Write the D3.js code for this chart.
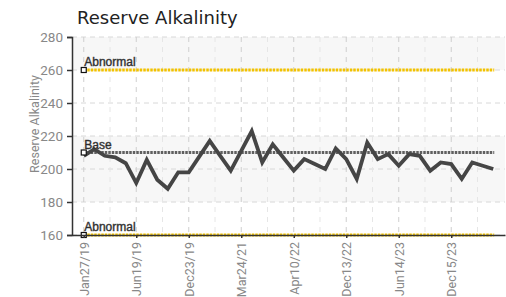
<!DOCTYPE html>
<html><head><meta charset="utf-8">
<script src="https://cdn.jsdelivr.net/npm/d3@7"></script>
<style>
html,body{margin:0;padding:0;background:#fff;}
svg{display:block;}
</style></head>
<body><div id="chart"></div>
<script>
const title = "Reserve Alkalinity";
const yTitle = "Reserve Alkalinity";
const values = [208,212,208,207,203.5,191.5,205.5,193.5,188,198,
                198,207.5,217,208,199,211,223,204,215,207,
                199,206,203,200,212.5,206,194,216,206,209,
                202,209,208,199,204,203,194,204,202,200];
const tickIndex = [0,5,10,15,20,25,30,35];
const tickLabels = ["Jan27/19","Jun19/19","Dec23/19","Mar24/21","Apr10/22","Dec13/22","Jun14/23","Dec15/23"];
const yTicks = [160,180,200,220,240,260,280];
const refNames = ["Abnormal","Base","Abnormal"];
const refValues = [260,210,160];
const refColors = ["#f2c200","#606060","#f2c200"];

(function(){
const W = 506, H = 297;
const mLeft = 72, mRight = 505, mTop = 37, mBottom = 235;

const svg = d3.select("#chart").append("svg").attr("width", W).attr("height", H);

const x = d3.scalePoint().domain(d3.range(values.length)).range([mLeft, mRight]).padding(1.12);
const y = d3.scaleLinear().domain([160, 280]).range([mBottom, mTop]);

// background bands
const bands = [[260,280],[180,220]];
svg.append("g").selectAll("rect").data(bands).join("rect")
  .attr("x", mLeft).attr("width", mRight - mLeft)
  .attr("y", d => y(d[1])).attr("height", d => y(d[0]) - y(d[1]))
  .attr("fill", "#f7f7f7");

// horizontal grid
svg.append("g").selectAll("line").data(yTicks).join("line")
  .attr("x1", mLeft).attr("x2", mRight)
  .attr("y1", d => y(d)).attr("y2", d => y(d))
  .attr("stroke", "#d8d8d8").attr("stroke-dasharray", "5,4");

// vertical grid (major at labelled ticks, minor in between)
const step = x.step();
const minorIdx = tickIndex.map(i => i + 2.5);
svg.append("g").selectAll("line").data(minorIdx).join("line")
  .attr("x1", d => x(0) + step * d).attr("x2", d => x(0) + step * d)
  .attr("y1", mTop).attr("y2", mBottom)
  .attr("stroke", "#e6e6e6").attr("stroke-dasharray", "5,5");
svg.append("g").selectAll("line").data(tickIndex).join("line")
  .attr("x1", d => x(d)).attr("x2", d => x(d))
  .attr("y1", mTop).attr("y2", mBottom)
  .attr("stroke", "#cfcfcf").attr("stroke-dasharray", "5,5");

// reference lines
const x0 = x(0), x1 = x(values.length - 1);
const refs = refValues.map((v, i) => ({v, name: refNames[i], color: refColors[i]}));
svg.append("g").selectAll("line").data(refs).join("line")
  .attr("x1", x0).attr("x2", x1 + 1)
  .attr("y1", d => y(d.v)).attr("y2", d => y(d.v))
  .attr("stroke", d => d.color).attr("stroke-width", 3.2)
  .attr("stroke-dasharray", "2.5,1");

// data line
svg.append("path").datum(values)
  .attr("fill", "none").attr("stroke", "#454545").attr("stroke-width", 3.8)
  .attr("stroke-linejoin", "miter")
  .attr("d", d3.line().x((d, i) => x(i)).y(d => y(d)));

// ref markers and labels
svg.append("g").selectAll("rect").data(refs).join("rect")
  .attr("x", x0 - 2.5).attr("y", d => y(d.v) - 2.5).attr("width", 5).attr("height", 5)
  .attr("fill", "#fff").attr("stroke", "#111").attr("stroke-width", 1.2);
svg.append("g").selectAll("text").data(refs).join("text")
  .attr("x", x0 + 0.5).attr("y", d => y(d.v) - 4)
  .attr("font-family", "Liberation Sans, Arial, sans-serif").attr("font-size", 12)
  .attr("fill", "#1a1a1a").attr("stroke", "#444").attr("stroke-width", 0.4)
  .text(d => d.name);

// axes
const yAxis = svg.append("g").attr("transform", `translate(${mLeft},0)`)
  .call(d3.axisLeft(y).tickValues(yTicks).tickSize(5).tickPadding(4));
yAxis.select(".domain").attr("stroke", "#333").attr("stroke-width", 1.5);
yAxis.selectAll(".tick line").attr("stroke", "#333").attr("stroke-width", 1.5);
yAxis.selectAll("text").attr("fill", "#888").attr("font-family", "Roboto, sans-serif").attr("font-size", 13.5);

const xAxis = svg.append("g").attr("transform", `translate(0,${mBottom})`)
  .call(d3.axisBottom(x).tickValues(tickIndex).tickFormat((d, i) => tickLabels[i]).tickSize(3).tickSizeOuter(0));
xAxis.select(".domain").attr("stroke", "#333").attr("stroke-width", 1.5);
xAxis.selectAll(".tick line").attr("stroke", "#333").attr("stroke-width", 1.5);
xAxis.selectAll("text")
  .attr("fill", "#888").attr("font-family", "Roboto, sans-serif").attr("font-size", 12.5)
  .attr("transform", "rotate(-90)").attr("text-anchor", "end")
  .attr("x", -7).attr("y", 0).attr("dy", "0.35em");

// titles
svg.append("text").attr("x", 77).attr("y", 24)
  .attr("font-family", "DejaVu Sans, sans-serif").attr("font-size", 18)
  .attr("fill", "#222").text(title);
svg.append("text").attr("transform", "translate(39,124) rotate(-90)")
  .attr("text-anchor", "middle")
  .attr("font-family", "Roboto, sans-serif").attr("font-size", 12.5)
  .attr("fill", "#888").text(yTitle);
})();
</script>
</body></html>
